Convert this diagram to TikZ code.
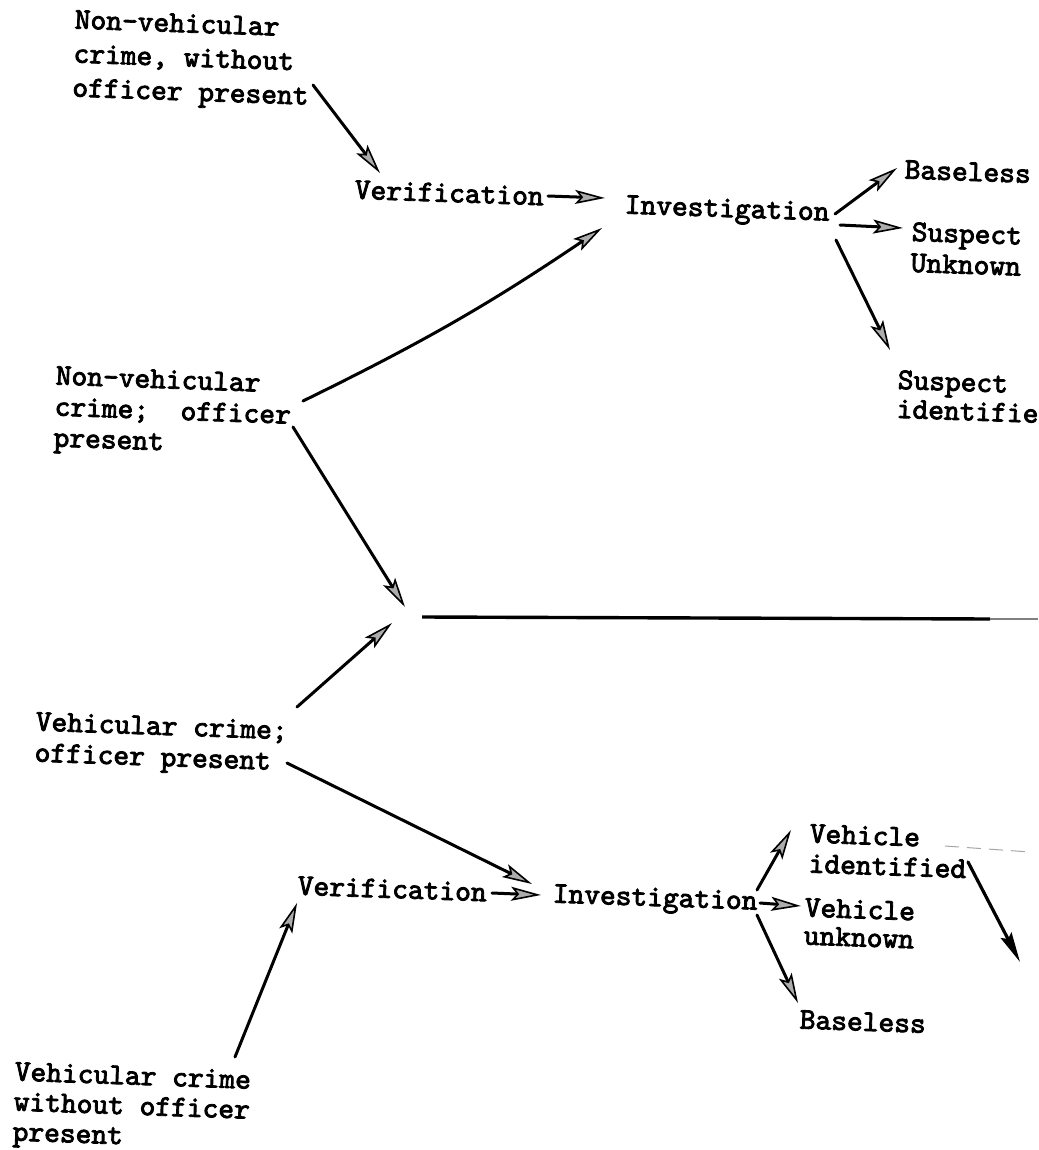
\documentclass[tikz,border=0pt]{standalone}
\usepackage{fontspec}
\usetikzlibrary{arrows.meta}
% typewriter face, slightly emboldened like a ribbon impression
\newfontfamily\typewriter{lmmono10-regular.otf}[FakeBold=2.8]
\begin{document}
\begin{tikzpicture}[x=1pt,y=-1pt,
  typed/.style={anchor=north west,inner sep=0pt,align=left,rotate=-2,
    font=\typewriter\fontsize{30}{33}\selectfont},
  flow/.style={line width=3pt,line cap=round,
    -{Stealth[length=30pt,width=14pt,inset=6pt,fill=gray!65,line width=1.6pt]}},
  solidflow/.style={line width=3.2pt,line cap=round,
    -{Stealth[length=30pt,width=12pt,inset=4pt]}}]
\useasboundingbox (0,0) rectangle (1038,1150);

% ---- labels ----
\node[typed,font=\typewriter\fontsize{30}{34}\selectfont] (nvw) at (75,10)
  {Non-vehicular\\crime, without\\officer present};
\node[typed] (ver1) at (355,180) {Verification};
\node[typed] (inv1) at (625,195) {Investigation};
\node[typed] (base1) at (905,160) {Baseless};
\node[typed,font=\typewriter\fontsize{30}{31}\selectfont] (sunk) at (912,222) {Suspect\\Unknown};
\node[typed,font=\typewriter\fontsize{30}{29}\selectfont] (sid) at (898,370) {Suspect\\identifie};
\node[typed,font=\typewriter\fontsize{30}{31}\selectfont] (nvo) at (56,366)
  {Non-vehicular\\crime;\ \ officer\\present};
\node[typed,font=\typewriter\fontsize{30}{31}\selectfont] (vo) at (36,712)
  {Vehicular crime;\\officer present};
\node[typed] (ver2) at (298,876) {Verification};
\node[typed] (inv2) at (553,884) {Investigation};
\node[typed,font=\typewriter\fontsize{30}{30}\selectfont] (vid) at (810,824) {Vehicle\\identified};
\node[typed,font=\typewriter\fontsize{30}{28}\selectfont] (vunk) at (805,898) {Vehicle\\unknown};
\node[typed] (base2) at (800,1010) {Baseless};
\node[typed,font=\typewriter\fontsize{30}{30}\selectfont] (vw) at (15,1062)
  {Vehicular crime\\without officer\\present};

% ---- connector end points ----
\coordinate (a1s) at (313,85);   \coordinate (a1e) at (380,173);
\coordinate (a2s) at (548,196);  \coordinate (a2e) at (605,198);
\coordinate (a3s) at (303,401);  \coordinate (a3e) at (602,228);
\coordinate (a4s) at (835,214);  \coordinate (a4e) at (897,168);
\coordinate (a5s) at (840,225);  \coordinate (a5e) at (903,228);
\coordinate (a6s) at (836,240);  \coordinate (a6e) at (890,350);
\coordinate (a7s) at (293,427);  \coordinate (a7e) at (405,607);
\coordinate (a8s) at (297,707);  \coordinate (a8e) at (392,623);
\coordinate (bars) at (422,617); \coordinate (barm) at (990,619); \coordinate (bare) at (1038,619);
\coordinate (a9s) at (287,763);  \coordinate (a9e) at (532,884);
\coordinate (a10s) at (235,1057); \coordinate (a10e) at (297,903);
\coordinate (a11s) at (492,893); \coordinate (a11e) at (541,895);
\coordinate (a12s) at (757,890); \coordinate (a12e) at (791,830);
\coordinate (a13s) at (760,903); \coordinate (a13e) at (801,906);
\coordinate (a14s) at (757,915); \coordinate (a14e) at (798,1003);
\coordinate (a15s) at (968,862); \coordinate (a15e) at (1020,962);
\coordinate (dsh1) at (945,846); \coordinate (dsh2) at (1030,852);

% ---- non-vehicular branch ----
\draw[flow] (a1s) -- (a1e);
\draw[flow] (a2s) -- (a2e);
\draw[flow] (a3s) to[bend right=4] (a3e);
\draw[flow] (a4s) -- (a4e);
\draw[flow] (a5s) -- (a5e);
\draw[flow] (a6s) -- (a6e);
\draw[flow] (a7s) -- (a7e);

% ---- dividing rule ----
\draw[line width=3.4pt] (bars) -- (barm);
\draw[line width=1.4pt,gray] (barm) -- (bare);

% ---- vehicular branch ----
\draw[flow] (a8s) -- (a8e);
\draw[flow] (a9s) -- (a9e);
\draw[flow] (a10s) -- (a10e);
\draw[flow] (a11s) -- (a11e);
\draw[flow] (a12s) -- (a12e);
\draw[flow] (a13s) -- (a13e);
\draw[flow] (a14s) -- (a14e);
\draw[solidflow] (a15s) -- (a15e);
\draw[gray!70,line width=1pt,dash pattern=on 14pt off 8pt] (dsh1) -- (dsh2);
\end{tikzpicture}
\end{document}
